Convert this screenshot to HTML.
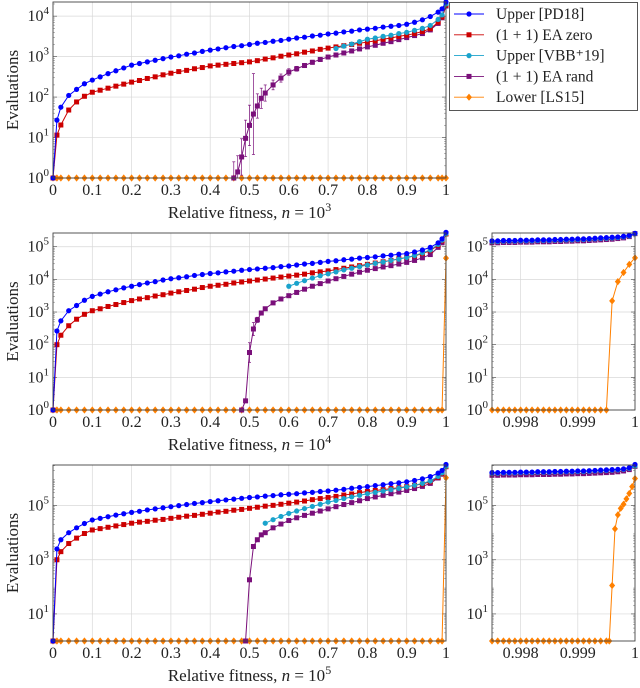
<!DOCTYPE html>
<html><head><meta charset="utf-8">
<style>
html,body{margin:0;padding:0;background:#fff;}
svg{display:block;font-family:"Liberation Serif",serif;}
</style></head>
<body>
<svg id="chart" width="640" height="688" viewBox="0 0 640 688" xmlns="http://www.w3.org/2000/svg"></svg>
<script>
// ---------- DATA (log10 of evaluations) ----------
const gridX = [0,0.01,0.02,0.04,0.06,0.08,0.10,0.12,0.14,0.16,0.18,0.20,0.22,0.24,0.26,0.28,0.30,0.32,0.34,0.36,0.38,0.40,0.42,0.44,0.46,0.48,0.50,0.52,0.54,0.56,0.58,0.60,0.62,0.64,0.66,0.68,0.70,0.72,0.74,0.76,0.78,0.80,0.82,0.84,0.86,0.88,0.90,0.92,0.94,0.96,0.98,0.99,1];
// n = 10^3
const p1Blue = [0,1.43,1.75,2.04,2.19,2.33,2.42,2.50,2.58,2.65,2.72,2.79,2.83,2.87,2.91,2.95,2.99,3.02,3.06,3.09,3.13,3.16,3.19,3.22,3.25,3.27,3.30,3.33,3.35,3.38,3.40,3.43,3.46,3.48,3.51,3.53,3.56,3.58,3.61,3.63,3.66,3.68,3.70,3.73,3.75,3.77,3.80,3.85,3.91,3.99,4.10,4.18,4.35];
const p1Red = [0,1.06,1.31,1.68,1.88,2.02,2.12,2.17,2.22,2.27,2.32,2.37,2.41,2.46,2.50,2.55,2.59,2.63,2.66,2.70,2.73,2.77,2.79,2.81,2.83,2.85,2.87,2.90,2.94,2.97,3.01,3.04,3.07,3.11,3.14,3.18,3.21,3.24,3.27,3.30,3.33,3.36,3.39,3.43,3.46,3.50,3.53,3.57,3.62,3.69,3.85,3.98,4.27];
const p1CyanX = [0.72,0.74,0.76,0.78,0.80,0.82,0.84,0.86,0.88,0.90,0.92,0.94,0.96,0.98,0.99,1];
const p1Cyan = [3.20,3.26,3.31,3.37,3.43,3.46,3.50,3.53,3.57,3.60,3.65,3.70,3.77,3.92,4.03,4.30];
const p1PurpleX = [0.46,0.47,0.48,0.49,0.50,0.51,0.52,0.53,0.54,0.56,0.58,0.60,0.62,0.64,0.66,0.68,0.70,0.72,0.74,0.76,0.78,0.80,0.82,0.84,0.86,0.88,0.90,0.92,0.94,0.96,0.98,0.99,1];
const p1Purple = [0,0.15,0.52,0.98,1.30,1.58,1.78,1.97,2.10,2.30,2.47,2.62,2.70,2.78,2.86,2.93,2.99,3.04,3.09,3.14,3.19,3.24,3.28,3.33,3.37,3.42,3.47,3.52,3.57,3.66,3.82,3.96,4.25];
const p1PurpleErr = [0.4,0.4,0.45,0.45,0.5,1.0,0.3,0.25,0.2,0.12,0.1,0.08,0.06,0.05,0.05,0.05,0.04,0.04,0.04,0.04,0.04,0.04,0.04,0.04,0.04,0.04,0.04,0.04,0.04,0.04,0.04,0.04,0.04];
const p1OrangeX = [1];
const p1Orange = [0];
// n = 10^4
const p2Blue = [0,2.42,2.73,3.04,3.20,3.36,3.48,3.55,3.62,3.68,3.74,3.79,3.84,3.89,3.93,3.98,4.02,4.05,4.08,4.12,4.15,4.18,4.20,4.23,4.25,4.28,4.30,4.32,4.34,4.36,4.39,4.41,4.44,4.47,4.49,4.52,4.55,4.57,4.60,4.62,4.65,4.67,4.69,4.72,4.74,4.77,4.79,4.84,4.90,4.98,5.12,5.24,5.44];
const p2Red = [0,2.00,2.29,2.58,2.78,2.93,3.04,3.10,3.17,3.23,3.29,3.35,3.40,3.44,3.49,3.53,3.58,3.62,3.66,3.70,3.75,3.79,3.82,3.85,3.89,3.92,3.95,3.98,4.01,4.04,4.07,4.10,4.13,4.16,4.20,4.23,4.26,4.30,4.34,4.38,4.42,4.46,4.50,4.54,4.58,4.63,4.67,4.72,4.79,4.88,5.05,5.18,5.39];
const p2CyanX = [0.60,0.62,0.64,0.66,0.68,0.70,0.72,0.74,0.76,0.78,0.80,0.82,0.84,0.86,0.88,0.90,0.92,0.94,0.96,0.98,0.99,1];
const p2Cyan = [3.79,3.88,3.96,4.04,4.11,4.17,4.23,4.29,4.34,4.39,4.44,4.49,4.53,4.58,4.62,4.67,4.73,4.81,4.90,5.07,5.20,5.40];
const p2PurpleX = [0.48,0.49,0.50,0.51,0.52,0.53,0.54,0.56,0.58,0.60,0.62,0.64,0.66,0.68,0.70,0.72,0.74,0.76,0.78,0.80,0.82,0.84,0.86,0.88,0.90,0.92,0.94,0.96,0.98,0.99,1];
const p2Purple = [0,0.28,1.76,2.48,2.76,2.97,3.10,3.28,3.40,3.50,3.60,3.70,3.79,3.87,3.95,4.02,4.09,4.16,4.22,4.28,4.33,4.38,4.42,4.47,4.52,4.58,4.66,4.76,4.98,5.12,5.40];
const p2PurpleErr = [0,0,0.3,0.2,0.08,0.06,0.05,0.04,0.04,0.04,0.03,0.03,0.03,0.03,0.03,0.03,0.03,0.03,0.03,0.03,0.03,0.03,0.03,0.03,0.03,0.03,0.03,0.03,0.03,0.03,0.03];
const p2OrangeX = [1];
const p2Orange = [4.65];
// n = 10^5
const p3Blue = [0,3.40,3.74,4.00,4.18,4.34,4.47,4.53,4.59,4.65,4.70,4.75,4.79,4.84,4.88,4.92,4.96,5.00,5.04,5.08,5.11,5.15,5.18,5.21,5.24,5.27,5.30,5.32,5.35,5.37,5.40,5.42,5.44,5.47,5.49,5.52,5.54,5.57,5.60,5.64,5.67,5.70,5.74,5.77,5.81,5.84,5.88,5.93,5.99,6.07,6.20,6.30,6.52];
const p3Red = [0,3.00,3.30,3.60,3.80,3.97,4.10,4.15,4.20,4.25,4.30,4.35,4.39,4.42,4.46,4.49,4.53,4.57,4.61,4.64,4.68,4.72,4.76,4.79,4.83,4.86,4.90,4.94,4.98,5.01,5.05,5.09,5.13,5.17,5.22,5.26,5.30,5.34,5.39,5.43,5.48,5.52,5.56,5.59,5.63,5.66,5.70,5.75,5.80,5.88,6.05,6.18,6.44];
const p3CyanX = [0.54,0.56,0.58,0.60,0.62,0.64,0.66,0.68,0.70,0.72,0.74,0.76,0.78,0.80,0.82,0.84,0.86,0.88,0.90,0.92,0.94,0.96,0.98,0.99,1];
const p3Cyan = [4.35,4.48,4.60,4.71,4.80,4.89,4.97,5.05,5.13,5.19,5.26,5.32,5.38,5.44,5.49,5.54,5.59,5.64,5.69,5.75,5.82,5.91,6.08,6.21,6.45];
const p3PurpleX = [0.49,0.50,0.51,0.52,0.53,0.54,0.56,0.58,0.60,0.62,0.64,0.66,0.68,0.70,0.72,0.74,0.76,0.78,0.80,0.82,0.84,0.86,0.88,0.90,0.92,0.94,0.96,0.98,0.99,1];
const p3Purple = [0,2.26,3.49,3.74,3.92,4.00,4.18,4.32,4.45,4.55,4.64,4.72,4.80,4.88,4.96,5.04,5.11,5.18,5.26,5.32,5.38,5.44,5.50,5.56,5.63,5.71,5.82,6.02,6.16,6.44];
const p3OrangeX = [1];
const p3Orange = [6.03];
// zoom panels (x from 0.9975 to 1)
const zoomX = [0.9975,0.9976,0.9977,0.9978,0.9979,0.9980,0.9981,0.9982,0.9983,0.9984,0.9985,0.9986,0.9987,0.9988,0.9989,0.9990,0.9991,0.9992,0.9993,0.9994,0.9995,0.9996,0.9997,0.9998,0.9999,1.0];
const z2Blue = [5.18,5.18,5.19,5.19,5.19,5.20,5.20,5.20,5.21,5.21,5.21,5.22,5.22,5.23,5.23,5.24,5.24,5.25,5.26,5.27,5.28,5.29,5.30,5.32,5.35,5.41];
const z2Cyan = [5.16,5.16,5.17,5.17,5.17,5.18,5.18,5.18,5.19,5.19,5.19,5.20,5.20,5.21,5.21,5.22,5.22,5.23,5.24,5.25,5.26,5.27,5.28,5.30,5.33,5.40];
const z2Purple = [5.12,5.12,5.13,5.13,5.13,5.14,5.14,5.14,5.15,5.15,5.15,5.16,5.16,5.17,5.17,5.18,5.18,5.19,5.20,5.21,5.22,5.23,5.25,5.27,5.31,5.40];
const z2Orange = [0,0,0,0,0,0,0,0,0,0,0,0,0,0,0,0,0,0,0,0,0,3.34,3.93,4.21,4.46,4.66];
const z3Blue = [6.22,6.22,6.23,6.23,6.23,6.24,6.24,6.24,6.25,6.25,6.25,6.26,6.26,6.27,6.27,6.28,6.28,6.29,6.30,6.31,6.32,6.33,6.34,6.36,6.40,6.52];
const z3Cyan = [6.20,6.20,6.21,6.21,6.21,6.22,6.22,6.22,6.23,6.23,6.23,6.24,6.24,6.25,6.25,6.26,6.26,6.27,6.28,6.29,6.30,6.31,6.32,6.34,6.38,6.46];
const z3Purple = [6.12,6.12,6.13,6.13,6.13,6.14,6.14,6.14,6.15,6.15,6.15,6.16,6.16,6.17,6.17,6.18,6.18,6.19,6.20,6.21,6.22,6.23,6.25,6.28,6.33,6.45];
const z3OrangeX = [0.9975,0.9976,0.9977,0.9978,0.9979,0.9980,0.9981,0.9982,0.9983,0.9984,0.9985,0.9986,0.9987,0.9988,0.9989,0.9990,0.9991,0.9992,0.9993,0.9994,0.9995,0.99955,0.9996,0.99965,0.9997,0.99975,0.9998,0.99985,0.9999,0.99995,1.0];
const z3Orange = [0,0,0,0,0,0,0,0,0,0,0,0,0,0,0,0,0,0,0,0,0,0,2.05,4.14,4.66,4.90,5.05,5.25,5.45,5.70,6.00];
const legendLabels = ["Upper [PD18]","(1 + 1) EA zero","Upper [VBB\u207A19]","(1 + 1) EA rand","Lower [LS15]"];
const xTicksMain = [0,0.1,0.2,0.3,0.4,0.5,0.6,0.7,0.8,0.9,1];
const xTickLabelsMain = ["0","0.1","0.2","0.3","0.4","0.5","0.6","0.7","0.8","0.9","1"];
const xTicksZoom = [0.998,0.999,1];
const xTickLabelsZoom = ["0.998","0.999","1"];

// ---------- RENDER ----------
const NS = "http://www.w3.org/2000/svg";
const svg = document.getElementById("chart");
const COL = {blue:"#0000ff", red:"#cc0000", cyan:"#1aa3cc", purple:"#7a0f7a", orange:"#ff8000"};
function el(tag, attrs, parent){
  const e = document.createElementNS(NS, tag);
  for (const k in attrs) e.setAttribute(k, attrs[k]);
  (parent||svg).appendChild(e);
  return e;
}
function marker(g, shape, cx, cy, color){
  let m;
  if (shape === "circle") m = el("circle", {cx:cx, cy:cy, r:2.6, fill:color}, g);
  else if (shape === "square") m = el("rect", {x:cx-2.5, y:cy-2.5, width:5, height:5, fill:color}, g);
  else m = el("polygon", {points:`${cx},${cy-3.6} ${cx+3},${cy} ${cx},${cy+3.6} ${cx-3},${cy}`, fill:color}, g);
  return m;
}
function makePanel(name, L, R, T, B, xmin, xmax, ymax, yTickExps, xt, xtl, xlabelExp){
  const g = el("g", {});
  
  
  const sx = v => L + (v - xmin) / (xmax - xmin) * (R - L);
  const sy = v => B - v / ymax * (B - T);
  const grid = el("g", {stroke:"#d8d8d8", "stroke-width":0.7}, g);
  
  
  xt.forEach(v => el("line", {x1:sx(v), x2:sx(v), y1:T, y2:B}, grid));
  for (let e = 0; e <= Math.floor(ymax); e++) {
    if (yTickExps.includes(e) || yTickExps.length > 4) el("line", {x1:L, x2:R, y1:sy(e), y2:sy(e)}, grid);
  }
  const mt = el("g", {stroke:"#777", "stroke-width":0.5}, g);
  for (let e = 0; e < Math.ceil(ymax); e++) {
    for (let k = 2; k <= 9; k++) {
      const v = e + Math.log10(k);
      if (v > ymax) continue;
      el("line", {x1:L, x2:L+2, y1:sy(v), y2:sy(v)}, mt);
      el("line", {x1:R, x2:R-2, y1:sy(v), y2:sy(v)}, mt);
    }
  }
  yTickExps.forEach(e => {
    const t = el("text", {x:L-4, y:sy(e)+5, "text-anchor":"end", "font-size":16, fill:"#222"}, g);
    
    
    t.appendChild(document.createTextNode("10"));
    const s = el("tspan", {dy:-7, "font-size":11}, t); s.textContent = String(e);
    el("line", {x1:L, x2:L+4, y1:sy(e), y2:sy(e), stroke:"#444", "stroke-width":0.6}, g);
    el("line", {x1:R, x2:R-4, y1:sy(e), y2:sy(e), stroke:"#444", "stroke-width":0.6}, g);
  });
  xt.forEach((v, i) => {
    const t = el("text", {x:sx(v), y:B+17, "text-anchor":"middle", "font-size":16, fill:"#222"}, g);
    
    
    t.textContent = xtl[i];
  });
  if (xlabelExp) {
    const t = el("text", {x:(L+R)/2, y:B+40, "text-anchor":"middle", "font-size":17, fill:"#222"}, g);
    
    
    t.appendChild(document.createTextNode("Relative fitness, "));
    const i1 = el("tspan", {"font-style":"italic"}, t); i1.textContent = "n";
    t.appendChild(document.createTextNode(" = 10"));
    const s = el("tspan", {dy:-7, "font-size":12}, t); s.textContent = xlabelExp;
    const yl = el("text", {x:0, y:0, transform:`translate(18,${(T+B)/2}) rotate(-90)`, "text-anchor":"middle", "font-size":17, fill:"#222"}, g);
    
    
    yl.textContent = "Evaluations";
  }
  const clip = "clip-" + name;
  const cp = el("clipPath", {id:clip}, g);
  el("rect", {x:L-4, y:T-4, width:R-L+8, height:B-T+8}, cp);
  const data = el("g", {"clip-path":`url(#${clip})`}, g);
  const frame = el("rect", {x:L, y:T, width:R-L, height:B-T, fill:"none", stroke:"#444", "stroke-width":0.9}, g);
  
  
  return {sx, sy, data};
}
function series(P, name, xs, ys, color, shape, err){
  const g = el("g", {}, P.data);
  
  
  const pts = xs.map((x, i) => `${P.sx(x).toFixed(2)},${P.sy(ys[i]).toFixed(2)}`).join(" ");
  el("polyline", {points:pts, fill:"none", stroke:color, "stroke-width":1}, g);
  if (err) {
    xs.forEach((x, i) => {
      if (!err[i]) return;
      const cx = P.sx(x), y1 = P.sy(Math.max(0, ys[i]-err[i])), y2 = P.sy(ys[i]+err[i]);
      el("line", {x1:cx, x2:cx, y1:y1, y2:y2, stroke:color, "stroke-width":0.7}, g);
      el("line", {x1:cx-1.5, x2:cx+1.5, y1:y1, y2:y1, stroke:color, "stroke-width":0.7}, g);
      el("line", {x1:cx-1.5, x2:cx+1.5, y1:y2, y2:y2, stroke:color, "stroke-width":0.7}, g);
    });
  }
  xs.forEach((x, i) => {
    const m = marker(g, shape, P.sx(x), P.sy(ys[i]), color);
    
    
  });
}
function orangeMain(P, name, extraX, extraY){
  const xs = [], ys = [];
  for (let i = 0; i < gridX.length - 1; i++) { xs.push(gridX[i]); ys.push(0); }
  for (let i = 0; i < extraX.length; i++) { xs.push(extraX[i]); ys.push(extraY[i]); }
  series(P, name, xs, ys, COL.orange, "diamond");
}

const P1 = makePanel("panel-n1000", 53, 446, 2, 178, 0, 1, 4.35, [0,1,2,3,4], xTicksMain, xTickLabelsMain, "3");
orangeMain(P1, "lower-ls15-series", p1OrangeX, p1Orange);
series(P1, "ea-rand-series", p1PurpleX, p1Purple, COL.purple, "square", p1PurpleErr);
series(P1, "ea-zero-series", gridX, p1Red, COL.red, "square");
series(P1, "upper-vbb19-series", p1CyanX, p1Cyan, COL.cyan, "circle");
series(P1, "upper-pd18-series", gridX, p1Blue, COL.blue, "circle");

const P2 = makePanel("panel-n10000", 53, 446, 233, 410, 0, 1, 5.42, [0,1,2,3,4,5], xTicksMain, xTickLabelsMain, "4");
orangeMain(P2, "lower-ls15-series", p2OrangeX, p2Orange);
series(P2, "ea-rand-series", p2PurpleX, p2Purple, COL.purple, "square", p2PurpleErr);
series(P2, "ea-zero-series", gridX, p2Red, COL.red, "square");
series(P2, "upper-vbb19-series", p2CyanX, p2Cyan, COL.cyan, "circle");
series(P2, "upper-pd18-series", gridX, p2Blue, COL.blue, "circle");
const Z2 = makePanel("zoom-panel-n10000", 492, 635, 233, 410, 0.9975, 1, 5.42, [0,1,2,3,4,5], xTicksZoom, xTickLabelsZoom, null);
series(Z2, "lower-ls15-series", zoomX, z2Orange, COL.orange, "diamond");
series(Z2, "ea-rand-series", zoomX, z2Purple, COL.purple, "square");
series(Z2, "upper-vbb19-series", zoomX, z2Cyan, COL.cyan, "circle");
series(Z2, "upper-pd18-series", zoomX, z2Blue, COL.blue, "circle");

const P3 = makePanel("panel-n100000", 53, 446, 465, 641, 0, 1, 6.5, [1,3,5], xTicksMain, xTickLabelsMain, "5");
orangeMain(P3, "lower-ls15-series", p3OrangeX, p3Orange);
series(P3, "ea-rand-series", p3PurpleX, p3Purple, COL.purple, "square");
series(P3, "ea-zero-series", gridX, p3Red, COL.red, "square");
series(P3, "upper-vbb19-series", p3CyanX, p3Cyan, COL.cyan, "circle");
series(P3, "upper-pd18-series", gridX, p3Blue, COL.blue, "circle");
const Z3 = makePanel("zoom-panel-n100000", 492, 635, 465, 641, 0.9975, 1, 6.5, [1,3,5], xTicksZoom, xTickLabelsZoom, null);
series(Z3, "lower-ls15-series", z3OrangeX, z3Orange, COL.orange, "diamond");
series(Z3, "ea-rand-series", zoomX, z3Purple, COL.purple, "square");
series(Z3, "upper-vbb19-series", zoomX, z3Cyan, COL.cyan, "circle");
series(Z3, "upper-pd18-series", zoomX, z3Blue, COL.blue, "circle");

const lg = el("g", {});


el("rect", {x:449.5, y:2.5, width:188, height:108, fill:"#fff", stroke:"#444", "stroke-width":0.9}, lg);
const legCols = [COL.blue, COL.red, COL.cyan, COL.purple, COL.orange];
const legShapes = ["circle","square","circle","square","diamond"];
legendLabels.forEach((lab, i) => {
  const y = 14 + i * 20.8;
  const e = el("g", {}, lg);
  
  
  el("line", {x1:454, x2:484, y1:y, y2:y, stroke:legCols[i], "stroke-width":0.9}, e);
  marker(e, legShapes[i], 469, y, legCols[i]);
  const t = el("text", {x:496, y:y+5, "font-size":15.5, fill:"#222"}, e);
  t.textContent = lab;
});
</script>
</body></html>
